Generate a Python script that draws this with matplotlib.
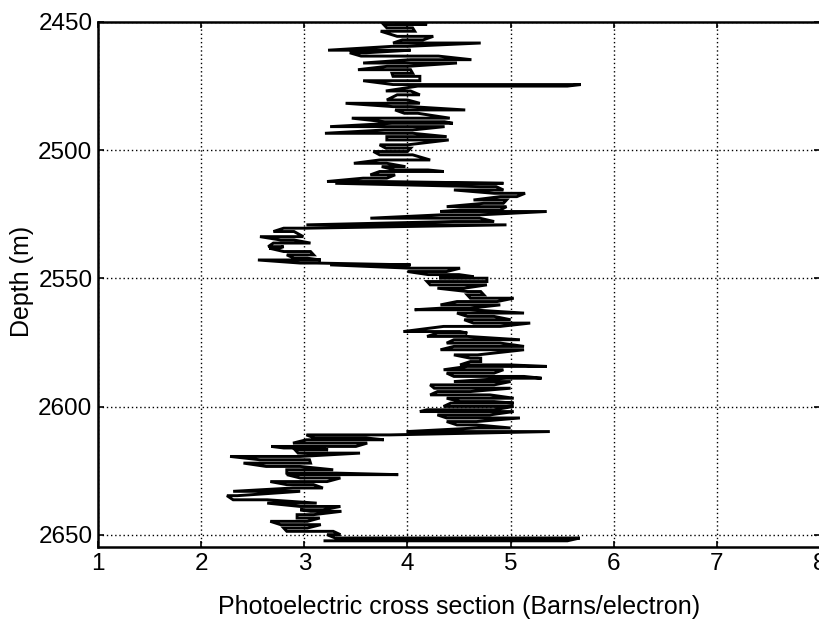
import numpy as np
import matplotlib.pyplot as plt

plt.rcParams['font.family'] = ['Liberation Sans', 'DejaVu Sans']

# Pe log: for each depth step, the low and high reading swept by the tool
depth_m = [
    2450.0, 2451.0, 2452.3, 2453.6, 2455.6, 2457.0, 2458.2, 2459.5, 2461.0, 2462.0,
    2463.3, 2464.7, 2466.0, 2467.3, 2468.6, 2470.0, 2471.2, 2472.9, 2474.4, 2475.0,
    2476.9, 2478.4, 2480.4, 2481.7, 2483.0, 2484.3, 2485.6, 2487.5, 2488.9, 2489.5,
    2490.8, 2492.1, 2493.4, 2494.7, 2496.0, 2497.9, 2499.2, 2500.5, 2501.8, 2503.8,
    2505.1, 2506.4, 2507.7, 2508.3, 2509.6, 2510.9, 2512.2, 2512.9, 2514.2, 2515.5,
    2516.8, 2518.1, 2519.4, 2520.7, 2522.0, 2523.3, 2523.9, 2525.2, 2526.5, 2527.8,
    2529.1, 2530.4, 2531.7, 2533.7, 2535.0, 2536.2, 2537.6, 2538.2, 2539.5, 2540.8,
    2542.1, 2542.8, 2544.0, 2544.7, 2546.0, 2547.3, 2548.5, 2549.3, 2549.9, 2551.2,
    2552.5, 2553.8, 2555.1, 2556.4, 2557.7, 2559.0, 2560.3, 2561.6, 2562.2, 2563.5,
    2564.8, 2566.1, 2567.4, 2568.7, 2570.7, 2571.3, 2572.6, 2573.9, 2575.2, 2576.5,
    2577.8, 2579.8, 2581.1, 2582.4, 2583.7, 2584.3, 2585.6, 2586.9, 2588.2, 2588.9,
    2590.2, 2591.5, 2592.8, 2594.1, 2595.4, 2596.7, 2598.0, 2598.6, 2599.9, 2601.2,
    2601.9, 2603.2, 2604.4, 2605.8, 2607.1, 2608.3, 2609.7, 2611.0, 2612.2, 2612.9,
    2614.2, 2615.5, 2616.1, 2616.8, 2618.1, 2619.4, 2620.7, 2622.0, 2623.3, 2624.6,
    2625.9, 2626.5, 2627.8, 2629.2, 2630.4, 2631.7, 2633.0, 2634.7, 2636.3, 2637.6,
    2638.9, 2640.2, 2640.8, 2642.1, 2643.4, 2644.7, 2646.0, 2647.3, 2648.6, 2649.9,
    2651.2, 2652.3,
]
pe_lo = [
    3.90, 3.77, 3.80, 3.74, 3.90, 3.95, 3.86, 3.85, 3.23, 3.44,
    3.55, 4.03, 3.57, 3.80, 3.52, 3.85, 3.86, 3.57, 3.86, 4.10,
    3.79, 3.90, 3.80, 3.40, 3.86, 3.88, 3.97, 3.46, 3.78, 3.85,
    3.25, 3.78, 3.20, 3.80, 3.80, 3.73, 3.79, 3.67, 3.73, 3.73,
    3.48, 3.75, 3.88, 3.73, 3.64, 3.57, 3.22, 3.30, 4.70, 4.45,
    4.84, 4.90, 4.64, 4.74, 4.38, 4.51, 4.32, 4.32, 3.64, 4.45,
    3.02, 2.80, 2.70, 2.57, 2.77, 2.70, 2.65, 2.66, 2.80, 2.83,
    2.90, 2.55, 2.96, 3.25, 4.03, 4.00, 4.20, 4.32, 4.32, 4.19,
    4.22, 4.29, 4.58, 4.58, 4.61, 4.48, 4.32, 4.32, 4.07, 4.48,
    4.58, 4.55, 4.64, 4.35, 3.96, 4.29, 4.19, 4.45, 4.38, 4.45,
    4.32, 4.45, 4.61, 4.61, 4.51, 4.58, 4.35, 4.38, 4.45, 4.96,
    4.45, 4.22, 4.26, 4.29, 4.22, 4.38, 4.51, 4.42, 4.35, 4.19,
    4.12, 4.29, 4.38, 4.38, 4.48, 4.67, 3.99, 3.02, 3.10, 3.02,
    2.89, 2.68, 2.80, 2.91, 2.94, 2.28, 2.57, 2.41, 2.63, 2.83,
    2.83, 2.83, 2.96, 2.67, 2.83, 2.89, 2.31, 2.25, 2.31, 2.64,
    2.96, 2.96, 3.06, 2.93, 2.93, 2.67, 2.77, 2.80, 2.83, 3.22,
    3.30, 3.20,
]
pe_hi = [
    4.10, 4.19, 4.05, 4.07, 4.25, 4.15, 4.71, 4.00, 4.03, 3.60,
    4.30, 4.62, 4.48, 4.00, 4.03, 4.05, 4.12, 4.12, 5.68, 5.55,
    4.03, 4.12, 4.00, 4.12, 4.03, 4.56, 4.10, 4.41, 4.36, 4.44,
    4.36, 4.05, 4.05, 4.38, 4.40, 4.00, 4.03, 4.00, 4.05, 4.22,
    3.80, 3.98, 4.20, 4.35, 3.88, 3.80, 3.74, 4.93, 4.86, 4.93,
    5.14, 5.06, 4.96, 4.93, 4.96, 4.90, 5.35, 4.70, 4.70, 4.84,
    4.96, 3.02, 2.90, 2.99, 2.90, 3.06, 2.80, 2.75, 3.06, 3.09,
    3.03, 3.16, 3.12, 4.03, 4.51, 4.38, 4.50, 4.64, 4.77, 4.77,
    4.77, 4.55, 4.71, 4.74, 5.03, 4.87, 4.90, 4.61, 4.61, 5.13,
    4.84, 5.00, 5.19, 4.90, 4.51, 4.58, 4.58, 5.09, 4.90, 5.13,
    5.13, 4.68, 4.71, 4.71, 4.99, 5.35, 4.93, 4.84, 5.13, 5.30,
    5.00, 4.84, 5.00, 4.61, 4.80, 5.03, 4.84, 5.03, 5.03, 4.84,
    5.03, 4.80, 5.09, 4.67, 4.67, 5.00, 5.38, 3.83, 3.60, 3.77,
    3.61, 3.50, 3.12, 3.23, 3.54, 2.96, 3.05, 3.06, 2.96, 3.28,
    3.31, 3.91, 3.35, 3.22, 3.09, 3.18, 2.96, 2.35, 2.64, 3.12,
    3.35, 3.18, 3.36, 3.09, 3.15, 3.03, 3.16, 3.03, 3.28, 3.35,
    5.67, 5.55,
]

x_ticks = [1, 2, 3, 4, 5, 6, 7, 8]
y_ticks = [2450, 2500, 2550, 2600, 2650]

# sweep low->high, then high->low on the next step, like the tool trace
xs, ys = [], []
for i, (d, lo, hi) in enumerate(zip(depth_m, pe_lo, pe_hi)):
    pair = (lo, hi) if i % 2 == 0 else (hi, lo)
    xs.extend(pair)
    ys.extend([d, d])

fig = plt.figure(figsize=(8.19, 6.21), dpi=100)
ax = fig.add_axes([0.1197, 0.1192, 0.8816, 0.8454])

ax.plot(xs, ys, color='black', lw=2.1, solid_joinstyle='miter')

ax.set_xlim(1, 8)
ax.set_ylim(2654.7, 2450)
ax.set_xticks(x_ticks)
ax.set_yticks(y_ticks)
ax.grid(True, color='black', linestyle=(0, (1, 2)), linewidth=1.0)

for s in ax.spines.values():
    s.set_linewidth(1.8)
ax.tick_params(direction='in', length=4, width=1.2, top=True, right=True,
               labelsize=17.5, pad=4)

ax.set_xlabel('Photoelectric cross section (Barns/electron)', fontsize=18,
              labelpad=15)
ax.set_ylabel('Depth (m)', fontsize=18, labelpad=0)
ax.yaxis.set_label_coords(-0.089, 0.505)

fig.savefig('out.png', dpi=100)
